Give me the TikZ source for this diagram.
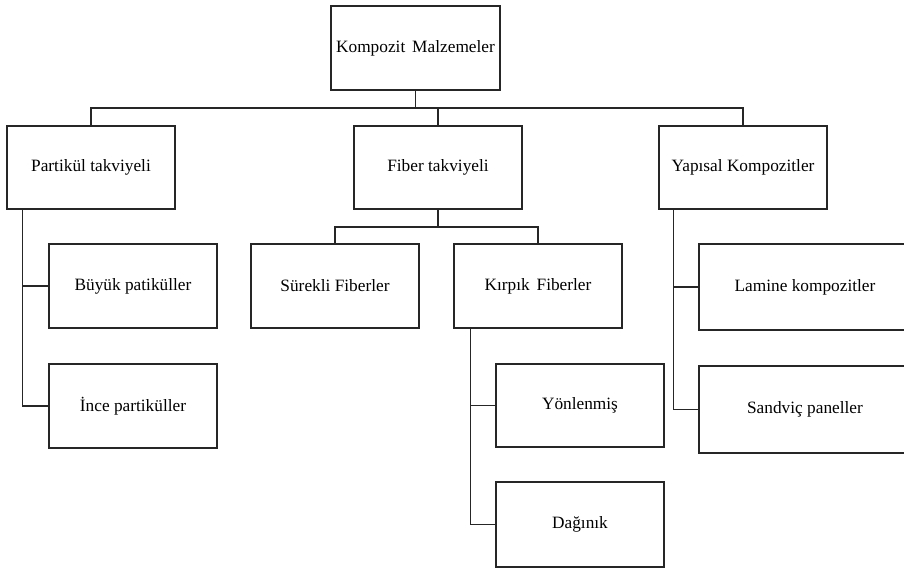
\documentclass[tikz,border=0pt]{standalone}
\usepackage{fontspec}
\setmainfont{Liberation Serif}
\begin{document}
\begin{tikzpicture}[x=1pt,y=-1pt,
  box/.style={draw=black!85, line width=1.3pt, rectangle, inner sep=0pt,
    minimum width=168pt, minimum height=84pt, font=\fontsize{17.3}{20}\selectfont},
  conn/.style={draw=black!85, line width=1.4pt}]
\clip (0,0) rectangle (904,569);
\useasboundingbox (0,0) rectangle (904,569);
\fill[white] (0,0) rectangle (904,569);
\node[box, minimum height=84pt, minimum width=169pt] (K) at (415.5,48) {Kompozit\hspace{0.15em} Malzemeler};
\node[box, minimum height=83pt] (P) at (91,167.5) {Partikül takviyeli};
\node[box, minimum height=83pt] (F) at (438,167.5) {Fiber takviyeli};
\node[box, minimum height=83pt] (Y) at (743,167.5) {Yapısal Kompozitler};
\node[box] (B) at (133,286) {Büyük patiküller};
\node[box] (I) at (133,406) {İnce partiküller};
\node[box] (S) at (335,286) {Sürekli Fiberler};
\node[box] (Kr) at (538,286) {Kırpık\hspace{0.15em} Fiberler};
\node[box, minimum height=83pt] (Yo) at (580,405.5) {Yönlenmiş};
\node[box, minimum height=85pt] (D) at (580,524.5) {Dağınık};
\node[box, minimum width=212pt, minimum height=86pt] (L) at (805,287) {Lamine kompozitler};
\node[box, minimum width=212pt, minimum height=87pt] (Sa) at (805,409.5) {Sandviç paneller};
% top level
\coordinate (kb) at (415.5,108);
\draw[conn] (K.south) -- (kb);
\draw[conn] (P.north) |- (kb) -| (Y.north);
\draw[conn] (F.north) -- (F.north |- kb);
% fiber
\coordinate (fb) at (438,227);
\draw[conn] (F.south) -- (fb);
\draw[conn] (S.north) |- (fb) -| (Kr.north);
% partikul
\coordinate (pv) at ([xshift=16pt]P.south west);
\draw[conn] (pv) |- (I.west);
\draw[conn] (B.west) -- (B.west -| pv);
% kirpik
\coordinate (kv) at ([xshift=17pt]Kr.south west);
\draw[conn] (kv) |- (D.west);
\draw[conn] (Yo.west) -- (Yo.west -| kv);
% yapisal
\coordinate (yv) at ([xshift=15pt]Y.south west);
\draw[conn] (yv) |- (Sa.west);
\draw[conn] (L.west) -- (L.west -| yv);
\end{tikzpicture}
\end{document}
